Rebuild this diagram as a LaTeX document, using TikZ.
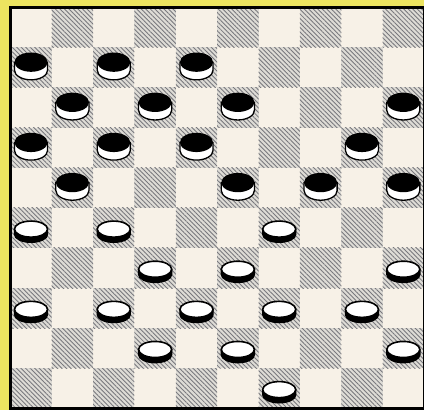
\documentclass[tikz,border=0pt]{standalone}
\usepackage{tikz}
\usepackage{xcolor}
\usetikzlibrary{patterns.meta}
\definecolor{cYellow}{RGB}{236,228,96}
\definecolor{cCream}{RGB}{247,241,231}
\definecolor{cHatch}{RGB}{120,120,125}
\definecolor{cShade}{RGB}{222,220,214}
\tikzset{
	darksq/.style   ={preaction={fill=cShade}, pattern={Lines[angle=-45, distance=2.2pt, line width=0.6pt]}, pattern color=cHatch},
	edge/.style     ={draw=black, line width=1.8pt},
	% draughts pieces, origin = centre of the top face
	blackman/.pic   ={
		\filldraw[fill=white, line width=0.9pt] (-0.4,0) -- (-0.4,-0.2) arc[start angle=180, end angle=360, x radius=0.4, y radius=0.24] -- (0.4,0) -- cycle;
		\fill[black] (0,0) ellipse[x radius=0.4, y radius=0.24];
	},
	whiteman/.pic   ={
		\filldraw[fill=black, line width=0.9pt] (-0.4,0) -- (-0.4,-0.13) arc[start angle=180, end angle=360, x radius=0.4, y radius=0.2] -- (0.4,0) -- cycle;
		\filldraw[fill=white, line width=1.1pt] (0,0) ellipse[x radius=0.4, y radius=0.2];
	},
}

\begin{document}
\begin{tikzpicture}[x=1cm, y=0.97cm]
	\fill[cYellow] (-0.25,-0.05) rectangle (10,10.18);
	\useasboundingbox (-0.25,-0.05) rectangle (10,10.18);
	\fill[cCream] (0,0) rectangle (10,10);
	% dark squares
	\foreach \r in {0,...,9}
		\foreach \c in {0,2,...,8}{
			\pgfmathtruncatemacro{\x}{\c+mod(\r+1,2)}
			\path[darksq] (\x,9-\r) rectangle ++(1,1);
		}
	\draw[edge] (0,0) rectangle (10,10);
	% black men
	\foreach \c/\r in {0/1, 2/1, 4/1, 1/2, 3/2, 5/2, 9/2, 0/3, 2/3, 4/3, 8/3, 1/4, 5/4, 7/4, 9/4}
		\pic at (\c+0.5, 9.63-\r) {blackman};
	% white men
	\foreach \c/\r in {0/5, 2/5, 6/5, 3/6, 5/6, 9/6, 0/7, 2/7, 4/7, 6/7, 8/7, 3/8, 5/8, 9/8, 6/9}
		\pic at (\c+0.5, 9.47-\r) {whiteman};
\end{tikzpicture}
\end{document}
